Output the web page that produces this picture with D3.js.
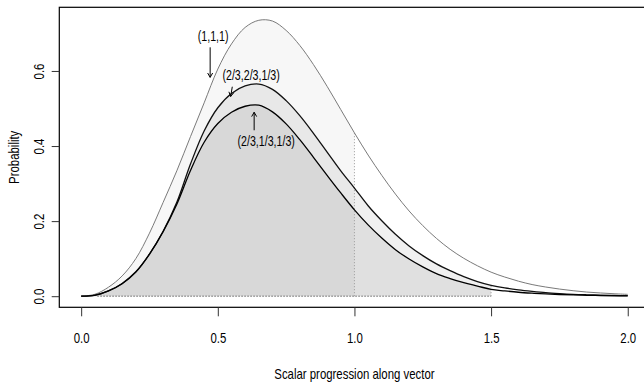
<!DOCTYPE html>
<html>
<head>
<meta charset="utf-8">
<script src="https://cdn.jsdelivr.net/npm/d3@7"></script>
<style>
  html, body { margin: 0; padding: 0; background: #fff; overflow: hidden; }
  svg { display: block; }
  text { font-family: "Liberation Sans", Arial, Helvetica, sans-serif; fill: #000; }
</style>
</head>
<body>
<svg id="chart" width="644" height="383"></svg>
<script>
// ---- data ----
const xGrid = [0,0.05,0.1,0.15,0.2,0.25,0.3,0.35,0.4,0.45,0.5,0.55,0.6,0.65,0.7,0.75,0.8,0.85,0.9,0.95,
               1.0,1.05,1.1,1.15,1.2,1.25,1.3,1.35,1.4,1.45,1.5,1.55,1.6,1.65,1.7,1.75,1.8,1.85,1.9,1.95,2.0];

// (1,1,1)
const seriesTop = [0,0.005,0.024,0.054,0.100,0.168,0.250,0.334,0.425,0.515,0.605,0.672,0.716,0.735,0.733,0.708,0.668,0.617,0.559,0.497,
                   0.435,0.376,0.322,0.272,0.227,0.188,0.154,0.125,0.101,0.081,0.064,0.051,0.040,0.031,0.0244,0.019,0.0146,0.011,0.0086,0.0065,0.0049];
// (2/3,2/3,1/3)
const seriesMid = [0,0.003,0.014,0.034,0.065,0.112,0.173,0.250,0.352,0.440,0.502,0.540,0.560,0.565,0.551,0.521,0.481,0.434,0.384,0.334,
                   0.288,0.241,0.201,0.165,0.134,0.108,0.086,0.068,0.052,0.039,0.029,0.022,0.017,0.013,0.0095,0.007,0.005,0.0037,0.0027,0.002,0.0014];
// (2/3,1/3,1/3)
const seriesLow = [0,0.002,0.014,0.033,0.064,0.112,0.172,0.245,0.335,0.410,0.460,0.490,0.506,0.509,0.491,0.459,0.417,0.370,0.322,0.275,
                   0.230,0.190,0.155,0.124,0.099,0.078,0.060,0.047,0.036,0.027,0.018,0.014,0.0105,0.008,0.006,0.0045,0.0033,0.0024,0.0017,0.0012,0.0009];

const xTicks = [0, 0.5, 1.0, 1.5, 2.0];
const yTicks = [0, 0.2, 0.4, 0.6];
const labels = ["(1,1,1)", "(2/3,2/3,1/3)", "(2/3,1/3,1/3)"];
const topCut = 1.0;      // fill end of the (1,1,1) area
const lowerCut = 1.5;    // fill end of the other two areas
const xTitle = "Scalar progression along vector";
const yTitle = "Probability";

// ---- layout ----
const svg = d3.select("#chart");
const x = d3.scaleLinear().domain([-0.08, 2.08]).range([59.3, 649.6]);
const y = d3.scaleLinear().domain([-0.0296, 0.7696]).range([307.3, 7.3]);

const toPts = s => xGrid.map((g, i) => [g, s[i]]);
const crv = d3.curveCatmullRom.alpha(0.5);
const line = d3.line().x(d => x(d[0])).y(d => y(d[1])).curve(crv);
const area = d3.area().x(d => x(d[0])).y0(y(0)).y1(d => y(d[1])).curve(crv);

const defs = svg.append("defs");
defs.append("clipPath").attr("id", "clipTop").append("rect")
  .attr("x", x(0) - 1).attr("y", 0).attr("width", x(topCut) - x(0) + 1).attr("height", 400);
defs.append("clipPath").attr("id", "clipLow").append("rect")
  .attr("x", x(0) - 1).attr("y", 0).attr("width", x(lowerCut) - x(0) + 1).attr("height", 400);

// fills (semi-transparent, overlapping)
svg.append("path").datum(toPts(seriesTop)).attr("d", area)
  .attr("clip-path", "url(#clipTop)").attr("fill", "rgba(0,0,0,0.031)");
svg.append("path").datum(toPts(seriesMid)).attr("d", area)
  .attr("clip-path", "url(#clipLow)").attr("fill", "rgba(0,0,0,0.06)");
svg.append("path").datum(toPts(seriesLow)).attr("d", area)
  .attr("clip-path", "url(#clipLow)").attr("fill", "rgba(0,0,0,0.067)");

// dotted borders
const iTop = xGrid.indexOf(topCut), iLow = xGrid.indexOf(lowerCut);
svg.append("line").attr("x1", x(0.06)).attr("x2", x(lowerCut)).attr("y1", y(0)).attr("y2", y(0))
  .attr("stroke", "#222").attr("stroke-width", 1).attr("stroke-dasharray", "1,2");
svg.append("line").attr("x1", x(topCut)).attr("x2", x(topCut)).attr("y1", y(0)).attr("y2", y(seriesTop[iTop]))
  .attr("stroke", "#999").attr("stroke-width", 1).attr("stroke-dasharray", "1,2");
svg.append("line").attr("x1", x(lowerCut)).attr("x2", x(lowerCut)).attr("y1", y(0)).attr("y2", y(seriesMid[iLow]))
  .attr("stroke", "#999").attr("stroke-width", 1).attr("stroke-dasharray", "1,2");

// curves
svg.append("path").datum(toPts(seriesTop)).attr("d", line)
  .attr("fill", "none").attr("stroke", "#7a7a7a").attr("stroke-width", 1);
svg.append("path").datum(toPts(seriesMid)).attr("d", line)
  .attr("fill", "none").attr("stroke", "#111").attr("stroke-width", 1.3);
svg.append("path").datum(toPts(seriesLow)).attr("d", line)
  .attr("fill", "none").attr("stroke", "#000").attr("stroke-width", 1.3);

// box (right edge lies outside the window)
svg.append("rect").attr("x", 59.3).attr("y", 7.3).attr("width", 590.3).attr("height", 300)
  .attr("fill", "none").attr("stroke", "#000").attr("stroke-width", 1.2);

// axes
const fmt = d3.format(".1f");
const gx = svg.append("g").attr("transform", `translate(0,307.3)`)
  .call(d3.axisBottom(x).tickValues(xTicks).tickFormat(fmt).tickSize(9).tickSizeOuter(0));
gx.select(".domain").remove();
gx.selectAll(".tick line").attr("stroke", "#333");
gx.selectAll(".tick text").attr("y", 0).attr("dy", null)
  .attr("transform", "translate(0,35.4)").style("font-size", "15px").style("font-family", null);

const gy = svg.append("g").attr("transform", `translate(59.3,0)`)
  .call(d3.axisLeft(y).tickValues(yTicks).tickFormat(fmt).tickSize(7.6).tickSizeOuter(0));
gy.select(".domain").remove();
gy.selectAll(".tick line").attr("stroke", "#333");
gy.selectAll(".tick text").attr("x", null).attr("dy", null).attr("y", null)
  .attr("text-anchor", "middle")
  .attr("transform", "translate(-15.8,0) rotate(-90)")
  .style("font-size", "15px").style("font-family", null);

svg.append("text").attr("x", x(1.0)).attr("y", 378.5).attr("text-anchor", "middle")
  .style("font-size", "15px").text(xTitle);
svg.append("text").attr("transform", `translate(18.5,${(7.3 + 307.3) / 2}) rotate(-90)`)
  .attr("text-anchor", "middle").style("font-size", "15px").text(yTitle);

// annotations (positions in data units)
const ann = [
  { t: labels[0], tx: 0.483, ty: 0.679, ax: 0.472, ay1: 0.663, ax2: 0.472, ay2: 0.583 },
  { t: labels[1], tx: 0.622, ty: 0.575, ax: 0.553, ay1: 0.558, ax2: 0.547, ay2: 0.532 },
  { t: labels[2], tx: 0.677, ty: 0.400, ax: 0.633, ay1: 0.442, ax2: 0.633, ay2: 0.490 }
];
ann.forEach(a => {
  svg.append("text").attr("class", "ann").attr("x", x(a.tx)).attr("y", y(a.ty)).attr("text-anchor", "middle")
    .style("font-size", "14px").text(a.t);
  const x1 = x(a.ax), y1 = y(a.ay1), x2 = x(a.ax2), y2 = y(a.ay2);
  svg.append("line").attr("x1", x1).attr("y1", y1).attr("x2", x2).attr("y2", y2)
    .attr("stroke", "#000").attr("stroke-width", 1);
  const ang = Math.atan2(y2 - y1, x2 - x1), L = 5, w = Math.PI / 6;
  const p1 = [x2 - L * Math.cos(ang - w), y2 - L * Math.sin(ang - w)];
  const p2 = [x2 - L * Math.cos(ang + w), y2 - L * Math.sin(ang + w)];
  svg.append("path").attr("d", `M${p1[0]},${p1[1]}L${x2},${y2}L${p2[0]},${p2[1]}`)
    .attr("fill", "none").attr("stroke", "#000").attr("stroke-width", 1);
});

// condensed lettering (the reference uses a narrow sans face)
svg.selectAll("text").each(function () {
  const L = this.getComputedTextLength();
  d3.select(this).attr("textLength", (L * 0.76).toFixed(2)).attr("lengthAdjust", "spacingAndGlyphs");
});
</script>
</body>
</html>
